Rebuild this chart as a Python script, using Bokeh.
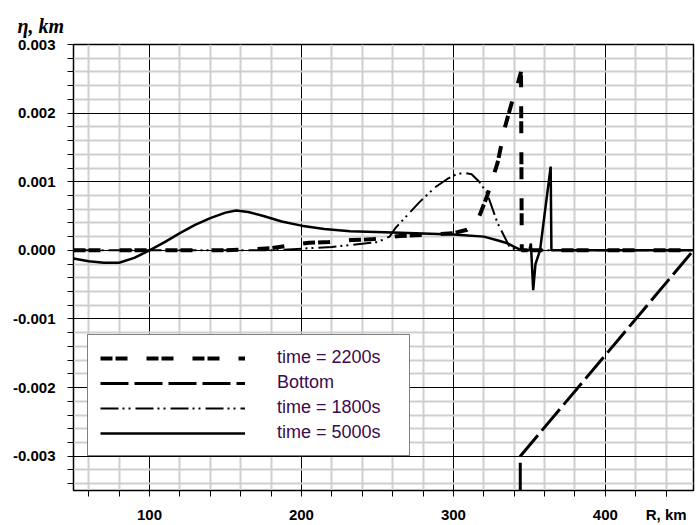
from bokeh.plotting import figure
from bokeh.models import (Range1d, FixedTicker, PrintfTickFormatter, Legend,
                          LegendItem, Title)
from bokeh.embed import file_html
from bokeh.resources import INLINE

# ---- data ----
x2200 = [50, 150, 180, 195, 205, 218, 233, 246, 265, 285, 300, 309, 316, 322,
         329, 334, 339, 342, 344.5, 345, 400, 458]
y2200 = [0, 0, 0.00003, 0.00008, 0.00011, 0.00012, 0.00015, 0.00016, 0.00021,
         0.00023, 0.00025, 0.0003, 0.00044, 0.00078, 0.00127, 0.0018, 0.0022,
         0.0024, 0.0026, 0.0, 0.0, 0.0]

xbottom = [344, 344, 458]
ybottom = [-0.0040, -0.0030, 0.0]

x1800 = [50, 180, 220, 250, 258, 262, 270, 278, 288, 296, 302, 307, 312, 317,
         322, 329, 337, 342, 458]
y1800 = [0, 0, 0.00005, 0.00012, 0.0002, 0.00033, 0.00052, 0.00071, 0.00092,
         0.00104, 0.00111, 0.00113, 0.00111, 0.001, 0.00084, 0.0004, 0.00005,
         0.0, 0.0]

x5000 = [50, 60, 70, 80, 90, 100, 110, 120, 130, 140, 150, 157, 165, 175, 187,
         200, 215, 232, 260, 300, 320, 330, 336, 340, 345, 350, 351, 352.5,
         354, 357, 364, 364.5, 400, 458]
y5000 = [-0.00012, -0.00016, -0.00018, -0.00018, -0.00011, 0.0, 0.00012,
         0.00025, 0.00037, 0.00047, 0.00055, 0.00058, 0.00056, 0.0005,
         0.00042, 0.00036, 0.00031, 0.00028, 0.00026, 0.00023, 0.0002,
         0.00014, 0.0001, 0.00005, 0.0, 0.0, 0.0001, -0.00058, -0.0002, 0.0,
         0.00122, 0.0, 0.0, 0.0]

x_major = [100, 200, 300, 400]
x_minor = [v for v in range(60, 460, 20) if v % 100 != 0]
y_major = [-0.003, -0.002, -0.001, 0.0, 0.001, 0.002, 0.003]
y_minor = [round(-0.0034 + 0.0002 * i, 4) for i in range(33)]
y_minor = [v for v in y_minor if round(v * 1000, 4) % 1 != 0]

labels = ["time = 2200s", "Bottom", "time = 1800s", "time = 5000s"]
y_title = "η, km"
x_title = "R, km"
x_title_at = 440  # the x-axis name sits in the tick-label row, near x = 440

p = figure(width=696, height=525, x_range=Range1d(50, 458),
           y_range=Range1d(-0.0035, 0.003), output_backend="svg",
           toolbar_location=None, min_border_left=73, min_border_right=3,
           min_border_top=44, min_border_bottom=34)
p.background_fill_color = "white"
p.border_fill_color = "white"
p.outline_line_color = "black"
p.outline_line_width = 1.5

xax = p.xaxis[0]
yax = p.yaxis[0]

p.xgrid.ticker = FixedTicker(ticks=x_major, minor_ticks=x_minor)
p.ygrid.ticker = FixedTicker(ticks=y_major, minor_ticks=y_minor)
yax.ticker = FixedTicker(ticks=y_major, minor_ticks=y_minor)
yax.formatter = PrintfTickFormatter(format="%.3f")
xax.ticker = FixedTicker(ticks=x_major + [x_title_at], minor_ticks=x_minor)
xax.major_label_overrides = {x_title_at: x_title}

for ax in (xax, yax):
    ax.axis_line_color = "black"
    ax.major_tick_line_color = "black"
    ax.minor_tick_line_color = "black"
    ax.major_tick_out = 6
    ax.major_tick_in = 0
    ax.minor_tick_out = 6
    ax.minor_tick_in = 0
    ax.major_label_text_font = "Liberation Sans"
    ax.major_label_text_font_style = "bold"
    ax.major_label_text_color = "black"
    ax.major_label_text_font_size = "15px"
xax.major_label_standoff = 9
yax.major_label_standoff = 12

for g in (p.xgrid, p.ygrid):
    g.grid_line_color = "black"
    g.grid_line_width = 1
    g.minor_grid_line_color = "#cfcfcf"
    g.minor_grid_line_width = 2

r5000 = p.line(x5000, y5000, line_color="black", line_width=2.5)
r1800 = p.line(x1800, y1800, line_color="black", line_width=2,
               line_dash="18 4 2 4 2 5")
rbot = p.line(xbottom, ybottom, line_color="black", line_width=3,
              line_dash="28 6")
r2200 = p.line(x2200, y2200, line_color="black", line_width=4,
               line_dash="12 3 12 19")

legend = Legend(items=[LegendItem(label=labels[0], renderers=[r2200]),
                       LegendItem(label=labels[1], renderers=[rbot]),
                       LegendItem(label=labels[2], renderers=[r1800]),
                       LegendItem(label=labels[3], renderers=[r5000])],
                location=(14, 34), glyph_width=145, glyph_height=20,
                label_height=20, label_width=120, label_standoff=32,
                spacing=4, padding=12, margin=0,
                label_text_font="Liberation Sans", label_text_font_size="18px",
                label_text_color="#3c0a50",
                border_line_color="black", border_line_width=1.5,
                background_fill_color="white", background_fill_alpha=1.0)
p.add_layout(legend, "center")

p.add_layout(Title(text=y_title, align="left", offset=-56, standoff=16,
                   text_font="Liberation Serif", text_font_style="bold italic",
                   text_font_size="20px", text_color="black"), "above")

open("out.html", "w").write(file_html(p, INLINE))
